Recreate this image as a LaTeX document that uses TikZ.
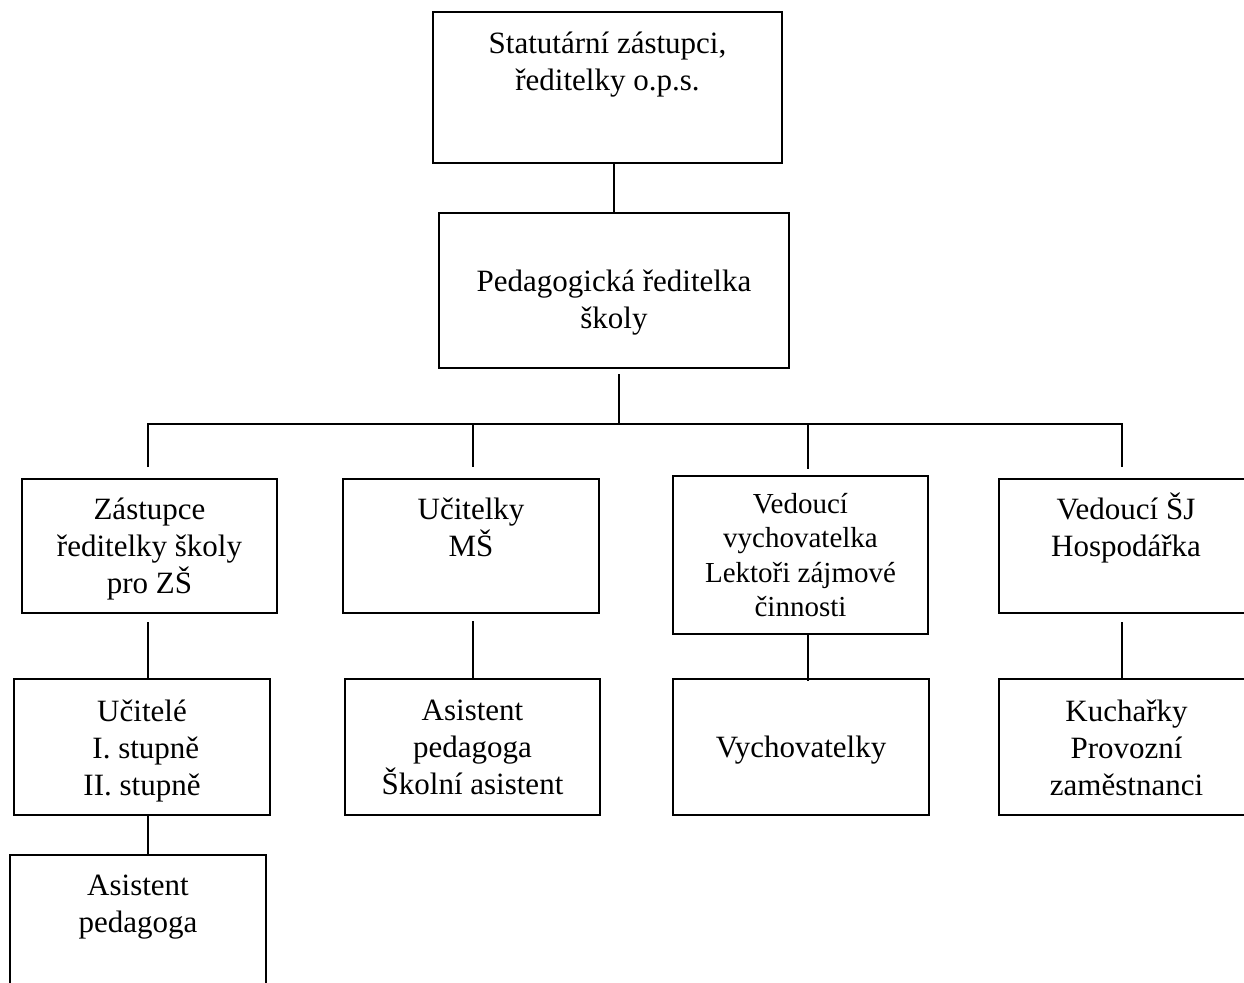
\documentclass[tikz,border=0pt]{standalone}
\usepackage{fontspec}
\setmainfont{Liberation Serif}
\usepackage{tikz}

\tikzset{
  orgbox/.style={draw, rectangle, inner sep=0pt},
  small/.style={font=\fontsize{29}{34.5}\selectfont}
}
\newcommand{\orgtext}[4]{\parbox[c][#2pt][t]{#1pt}{\centering\rule{0pt}{#3pt}#4}}

\begin{document}
\begin{tikzpicture}[x=1pt, y=-1pt, line width=2pt, font=\fontsize{31}{37}\selectfont]
\useasboundingbox (0,0) rectangle (1244,982);
\clip (0,0) rectangle (1244,982);

\node[orgbox] (t1) at (607.5,87.5) {\orgtext{349}{151}{41}{Statutární zástupci,\\ředitelky o.p.s.}};
\node[orgbox] (t2) at (614,290.5) {\orgtext{350}{155}{78}{Pedagogická ředitelka\\školy}};

\node[orgbox] (a) at (149.5,546) {\orgtext{255}{134}{40}{Zástupce\\ředitelky školy\\pro ZŠ}};
\node[orgbox] (b) at (471,546) {\orgtext{256}{134}{40}{Učitelky\\MŠ}};
\node[orgbox, small] (c) at (800.5,555) {\orgtext{255}{158}{37}{Vedoucí\\vychovatelka\\Lektoři zájmové\\činnosti}};
\node[orgbox] (d) at (1126,546) {\orgtext{254}{134}{40}{Vedoucí ŠJ\\Hospodářka}};

\node[orgbox] (a2) at (142,747) {\orgtext{256}{136}{42}{Učitelé\\\ I. stupně\\II. stupně}};
\node[orgbox] (b2) at (472.5,747) {\orgtext{255}{136}{41}{Asistent\\pedagoga\\Školní asistent}};
\node[orgbox] (c2) at (801,747) {\orgtext{256}{136}{78}{Vychovatelky}};
\node[orgbox] (d2) at (1126.5,747) {\orgtext{255}{136}{42}{Kuchařky\\Provozní\\zaměstnanci}};

\node[orgbox] (a3) at (138,925) {\orgtext{256}{140}{40}{Asistent\\pedagoga}};

\coordinate (bus) at (619,424);
\coordinate (jA) at (148,424);
\coordinate (jB) at (473,424);
\coordinate (jC) at (808,424);
\coordinate (jD) at (1122,424);

\draw (t2.north) -- (t2.north |- t1.south);
\draw[shorten <=5pt] (bus |- t2.south) -- (bus);
\draw[shorten <=11pt, shorten >=11pt] (jA |- a.north) -- (jA) -- (jD) -- (jD |- d.north);
\draw[shorten >=11pt] (jB) -- (jB |- b.north);
\draw[shorten >=6pt] (jC) -- (jC |- c.north);

\draw[shorten <=8pt] (jA |- a.south) -- (jA |- a2.north);
\draw[shorten <=7pt] (jB |- b.south) -- (jB |- b2.north);
\draw[shorten >=-3pt] (jC |- c.south) -- (jC |- c2.north);
\draw[shorten <=8pt] (jD |- d.south) -- (jD |- d2.north);
\draw (jA |- a2.south) -- (jA |- a3.north);
\end{tikzpicture}
\end{document}
